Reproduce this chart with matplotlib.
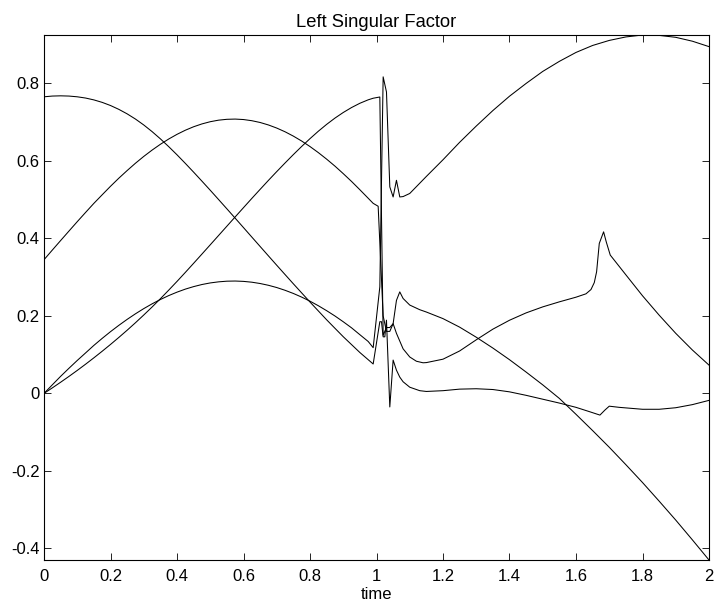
import numpy as np
import matplotlib.pyplot as plt

plt.rcParams['font.family'] = ['Liberation Sans', 'DejaVu Sans']

# shared time grid before the crossing near t = 1
t_pre = [0.0, 0.025, 0.05, 0.075, 0.1, 0.125, 0.15, 0.175, 0.2, 0.225, 0.25,
         0.275, 0.3, 0.325, 0.35, 0.375, 0.4, 0.425, 0.45, 0.475, 0.5,
         0.525, 0.55, 0.575, 0.6, 0.625, 0.65, 0.675, 0.7, 0.725, 0.75,
         0.775, 0.8, 0.825, 0.85, 0.875, 0.9, 0.925, 0.95, 0.975, 0.99]

a_pre = [0.7655, 0.7674, 0.768, 0.7674, 0.7655, 0.7623, 0.7575, 0.7511, 0.743, 0.7331, 0.7215,
         0.7081, 0.6928, 0.6757, 0.657, 0.6369, 0.6158, 0.5937, 0.571, 0.5478, 0.5243,
         0.5004, 0.4764, 0.4522, 0.4279, 0.4035, 0.3792, 0.3549, 0.3307, 0.3067, 0.2828,
         0.2593, 0.2358, 0.2129, 0.19, 0.1681, 0.1463, 0.1259, 0.1055, 0.087, 0.0759]
b_pre = [0.345, 0.3699, 0.3945, 0.4189, 0.4432, 0.467, 0.4905, 0.5126, 0.5345, 0.5554, 0.5751,
         0.594, 0.6116, 0.6279, 0.6429, 0.6565, 0.6686, 0.6792, 0.6882, 0.6955, 0.7012,
         0.7052, 0.7074, 0.708, 0.7068, 0.7038, 0.6992, 0.6928, 0.6848, 0.6752, 0.664,
         0.6513, 0.6371, 0.6215, 0.6046, 0.5866, 0.5672, 0.547, 0.5256, 0.5037, 0.4905]
c_pre = [0.0, 0.0142, 0.0288, 0.0438, 0.0593, 0.0753, 0.0918, 0.1088, 0.1263, 0.1444, 0.163,
         0.1823, 0.2023, 0.2229, 0.2443, 0.2664, 0.289, 0.3122, 0.3358, 0.3596, 0.3835,
         0.4075, 0.4315, 0.4555, 0.4794, 0.5032, 0.5266, 0.5498, 0.5725, 0.5947, 0.6164,
         0.6374, 0.6575, 0.6766, 0.6943, 0.7105, 0.725, 0.7378, 0.7488, 0.7577, 0.7618]
d_pre = [0.0, 0.0221, 0.044, 0.0648, 0.085, 0.1044, 0.1239, 0.142, 0.1593, 0.1756, 0.191,
         0.2054, 0.2188, 0.2311, 0.2423, 0.2524, 0.2613, 0.2691, 0.2756, 0.281, 0.2851,
         0.2879, 0.2896, 0.29, 0.2891, 0.287, 0.2836, 0.279, 0.2732, 0.2661, 0.2579,
         0.2485, 0.238, 0.2263, 0.2135, 0.1998, 0.1849, 0.1692, 0.1515, 0.134, 0.118]

# after the crossing, each component has its own samples
t_a_post = [1.01, 1.015, 1.02, 1.025, 1.03, 1.04, 1.05, 1.06, 1.07, 1.08, 1.1,
            1.13, 1.15, 1.2, 1.25, 1.3, 1.35, 1.4, 1.45, 1.5, 1.55, 1.6,
            1.64, 1.672, 1.687, 1.7, 1.73, 1.8, 1.85, 1.9, 1.95, 2.0]
a_post = [0.185, 0.185, 0.146, 0.146, 0.189, -0.035, 0.086, 0.06, 0.042, 0.03, 0.016,
          0.007, 0.005, 0.007, 0.011, 0.012, 0.01, 0.004, -0.005, -0.015, -0.025, -0.036,
          -0.047, -0.056, -0.043, -0.033, -0.036, -0.041, -0.041, -0.037, -0.029, -0.018]

t_b_post = [1.005, 1.02, 1.03, 1.04, 1.05, 1.06, 1.08, 1.1, 1.12, 1.14, 1.15, 1.2,
            1.25, 1.3, 1.35, 1.4, 1.45, 1.5, 1.55, 1.6, 1.63, 1.645, 1.655, 1.662,
            1.67, 1.683, 1.691, 1.703, 1.75, 1.8, 1.85, 1.9, 1.95, 2.0]
b_post = [0.483, 0.2, 0.16, 0.16, 0.18, 0.155, 0.115, 0.094, 0.083, 0.079, 0.0795, 0.0883,
          0.1095, 0.1383, 0.1658, 0.1888, 0.2078, 0.2233, 0.2363, 0.2483, 0.257, 0.268, 0.286, 0.314,
          0.387, 0.417, 0.391, 0.357, 0.306, 0.252, 0.202, 0.155, 0.112, 0.073]

t_c_post = [1.01, 1.02, 1.03, 1.04, 1.05, 1.06, 1.07, 1.08, 1.1, 1.13, 1.15, 1.2,
            1.25, 1.3, 1.35, 1.4, 1.45, 1.5, 1.55, 1.6, 1.65, 1.7, 1.75, 1.8,
            1.85, 1.9, 1.95, 2.0]
c_post = [0.765, 0.15, 0.17, 0.17, 0.18, 0.24, 0.262, 0.245, 0.228, 0.216, 0.21, 0.193,
          0.171, 0.145, 0.117, 0.087, 0.055, 0.022, -0.013, -0.054, -0.096, -0.139, -0.184, -0.23,
          -0.278, -0.327, -0.378, -0.43]

t_d_post = [1.01, 1.02, 1.03, 1.04, 1.05, 1.06, 1.07, 1.08, 1.1, 1.15, 1.2, 1.25,
            1.3, 1.35, 1.4, 1.45, 1.5, 1.55, 1.6, 1.65, 1.7, 1.75, 1.8, 1.85,
            1.9, 1.95, 2.0]
d_post = [0.275, 0.817, 0.778, 0.533, 0.507, 0.55, 0.507, 0.508, 0.516, 0.56, 0.603, 0.648,
          0.69, 0.73, 0.767, 0.8, 0.831, 0.857, 0.88, 0.898, 0.911, 0.92, 0.925, 0.924,
          0.919, 0.909, 0.895]

x_ticks = [0, 0.2, 0.4, 0.6, 0.8, 1.0, 1.2, 1.4, 1.6, 1.8, 2.0]
x_labels = ['0', '0.2', '0.4', '0.6', '0.8', '1', '1.2', '1.4', '1.6', '1.8', '2']
y_ticks = [-0.4, -0.2, 0, 0.2, 0.4, 0.6, 0.8]
y_labels = ['-0.4', '-0.2', '0', '0.2', '0.4', '0.6', '0.8']

series = [
    (t_pre + t_a_post, a_pre + a_post),
    (t_pre + t_b_post, b_pre + b_post),
    (t_pre + t_c_post, c_pre + c_post),
    (t_pre + t_d_post, d_pre + d_post),
]

fig = plt.figure(figsize=(7.15, 6.04), dpi=100)
ax = fig.add_axes([44 / 715, 44 / 604, 665 / 715, 525 / 604])

for t, u in series:
    ax.plot(t, u, color='black', lw=0.75)

# tight limits, like the original
lo = min(min(u) for _, u in series)
hi = max(max(u) for _, u in series)
ax.set_xlim(0, 2)
ax.set_ylim(lo, hi)

ax.set_xticks(x_ticks)
ax.set_xticklabels(x_labels)
ax.set_yticks(y_ticks)
ax.set_yticklabels(y_labels)
ax.tick_params(direction='in', top=True, right=True, length=5, width=0.6,
               labelsize=12)
ax.tick_params(axis='x', pad=6.7)
ax.tick_params(axis='y', pad=3.3)
for s in ax.spines.values():
    s.set_linewidth(0.8)

ax.set_title('Left Singular Factor', fontsize=13.2, pad=6)
ax.set_xlabel('time', fontsize=12, labelpad=2)

fig.savefig('out.png')
